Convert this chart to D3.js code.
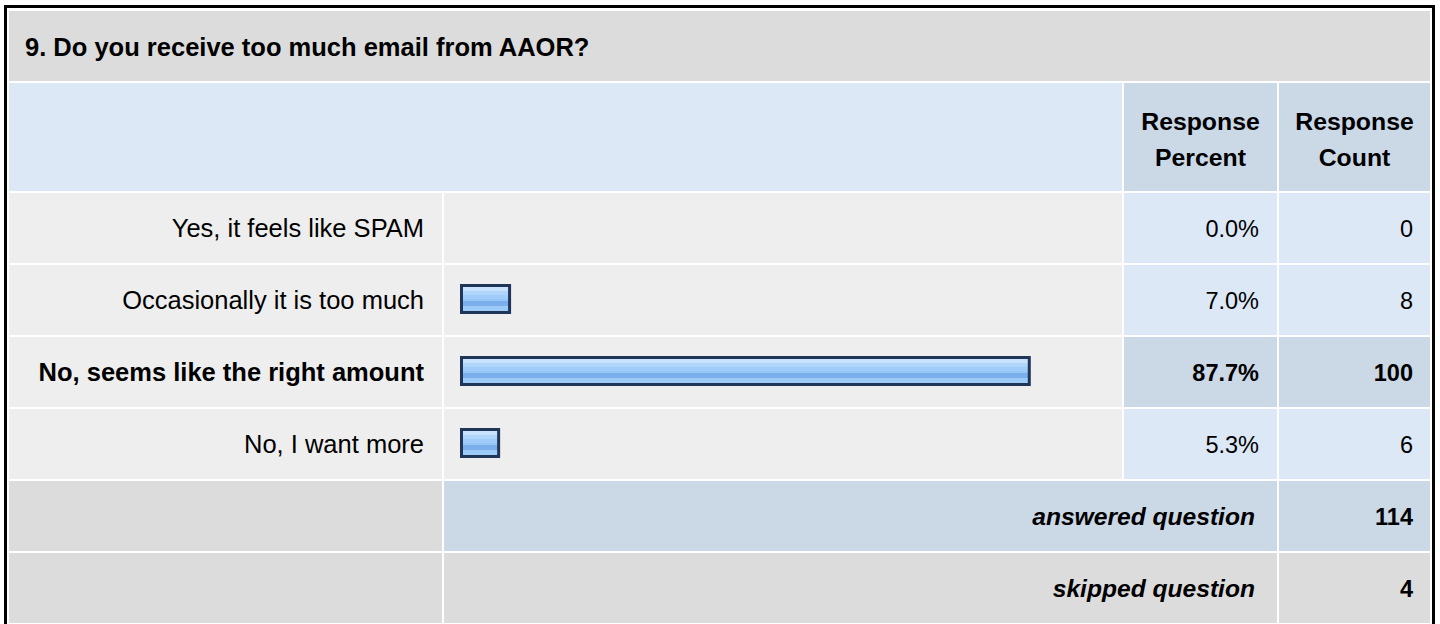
<!DOCTYPE html>
<html>
<head>
<meta charset="utf-8">
<script src="https://cdn.jsdelivr.net/npm/d3@7"></script>
<style>
  html, body { margin: 0; padding: 0; background: #ffffff; }
  svg { display: block; }
  text { font-family: "Liberation Sans", Arial, Helvetica, sans-serif; fill: #000; }
</style>
</head>
<body>
<svg id="chart" width="1440" height="624"></svg>
<script>
// ---- data ----
const question = "9. Do you receive too much email from AAOR?";
const categories = ["Yes, it feels like SPAM", "Occasionally it is too much", "No, seems like the right amount", "No, I want more"];
const percents = [0.0, 7.0, 87.7, 5.3];
const counts = [0, 8, 100, 6];
const headerPercent = ["Response", "Percent"];
const headerCount = ["Response", "Count"];
const summaryLabels = ["answered question", "skipped question"];
const summaryCounts = [114, 4];

// ---- layout ----
const svg = d3.select("#chart");
const W = 1440, H = 624;

const colLabel = [9, 442], colBar = [444, 1122], colPct = [1124, 1277], colCnt = [1279, 1430];
const C = {
  title: "#dcdcdc", head: "#dce8f5", headDark: "#cbd8e6",
  cell: "#eeeeee", num: "#dce8f5", numHi: "#cbd8e6", gray: "#dcdcdc"
};

const rowKeys = [...categories, ...summaryLabels];
const y = d3.scaleBand().domain(rowKeys).range([192, 624]).paddingInner(2 / 72).paddingOuter(1 / 72);
const x = d3.scaleLinear().domain([0, 100]).range([0, 644]);
const fmtPct = v => d3.format(".1f")(v) + "%";
const hiIndex = counts.indexOf(d3.max(counts));

// gradient for bars
const defs = svg.append("defs");
const grad = defs.append("linearGradient").attr("id", "barGrad").attr("x1", 0).attr("y1", 0).attr("x2", 0).attr("y2", 1);
[[0, "#c8e2fd"], [0.2, "#c8e2fd"], [0.2, "#b0d5fa"], [0.35, "#b0d5fa"], [0.35, "#9fccf8"], [0.5, "#9fccf8"],
 [0.5, "#95c6f6"], [0.58, "#95c6f6"], [0.58, "#7aafec"], [0.77, "#7aafec"], [0.77, "#9dcbf7"], [1, "#9dcbf7"]]
  .forEach(([o, c]) => grad.append("stop").attr("offset", o).attr("stop-color", c));

function cell(x0, x1, y0, h, fill) {
  svg.append("rect").attr("x", x0).attr("y", y0).attr("width", x1 - x0).attr("height", h).attr("fill", fill);
}

// outer border
svg.append("rect").attr("x", 5.5).attr("y", 6.5).attr("width", 1428).attr("height", 640)
  .attr("fill", "none").attr("stroke", "#000").attr("stroke-width", 3);

// title row
cell(colLabel[0], colCnt[1], 11, 70, C.title);
svg.append("text").attr("x", 25).attr("y", 56).attr("font-size", 25.5).attr("font-weight", "bold").text(question);

// header row
cell(colLabel[0], colBar[1], 83, 108, C.head);
cell(colPct[0], colPct[1], 83, 108, C.headDark);
cell(colCnt[0], colCnt[1], 83, 108, C.headDark);
[[colPct, headerPercent], [colCnt, headerCount]].forEach(([col, lines]) => {
  const t = svg.append("text").attr("text-anchor", "middle").attr("font-size", 24.8).attr("font-weight", "bold");
  lines.forEach((l, i) => t.append("tspan").attr("x", (col[0] + col[1]) / 2).attr("y", 130 + i * 36).text(l));
});

// data rows
categories.forEach((cat, i) => {
  const top = y(cat), h = y.bandwidth(), mid = top + h / 2;
  const hi = i === hiIndex;
  cell(colLabel[0], colLabel[1], top, h, C.cell);
  cell(colBar[0], colBar[1], top, h, C.cell);
  cell(colPct[0], colPct[1], top, h, hi ? C.numHi : C.num);
  cell(colCnt[0], colCnt[1], top, h, hi ? C.numHi : C.num);
  svg.append("text").attr("x", colLabel[1] - 18).attr("y", mid + 9).attr("text-anchor", "end")
    .attr("font-size", 25.5).attr("font-weight", hi ? "bold" : "normal").text(cat);
  if (percents[i] > 0) {
    const outerW = x(percents[i]) + 6;
    svg.append("rect").attr("x", 460 + 1.5).attr("y", top + 19 + 1.5)
      .attr("width", outerW - 3).attr("height", 27)
      .attr("fill", "url(#barGrad)").attr("stroke", "#1f3658").attr("stroke-width", 3);
  }
  svg.append("text").attr("x", colPct[1] - 18).attr("y", mid + 8.5).attr("text-anchor", "end")
    .attr("font-size", 23.5).attr("font-weight", hi ? "bold" : "normal").text(fmtPct(percents[i]));
  svg.append("text").attr("x", colCnt[1] - 17).attr("y", mid + 8.5).attr("text-anchor", "end")
    .attr("font-size", 23.5).attr("font-weight", hi ? "bold" : "normal").text(counts[i]);
});

// summary rows
summaryLabels.forEach((lab, i) => {
  const top = y(lab), h = y.bandwidth(), mid = top + h / 2;
  const midFill = i === 0 ? C.headDark : C.gray;
  cell(colLabel[0], colLabel[1], top, h, C.gray);
  cell(colBar[0], colPct[1], top, h, midFill);
  cell(colCnt[0], colCnt[1], top, h, midFill);
  svg.append("text").attr("x", colPct[1] - 22).attr("y", mid + 9).attr("text-anchor", "end")
    .attr("font-size", 24.6).attr("font-weight", "bold").attr("font-style", "italic").text(lab);
  svg.append("text").attr("x", colCnt[1] - 17).attr("y", mid + 9).attr("text-anchor", "end")
    .attr("font-size", 23.5).attr("font-weight", "bold").text(summaryCounts[i]);
});
</script>
</body>
</html>
